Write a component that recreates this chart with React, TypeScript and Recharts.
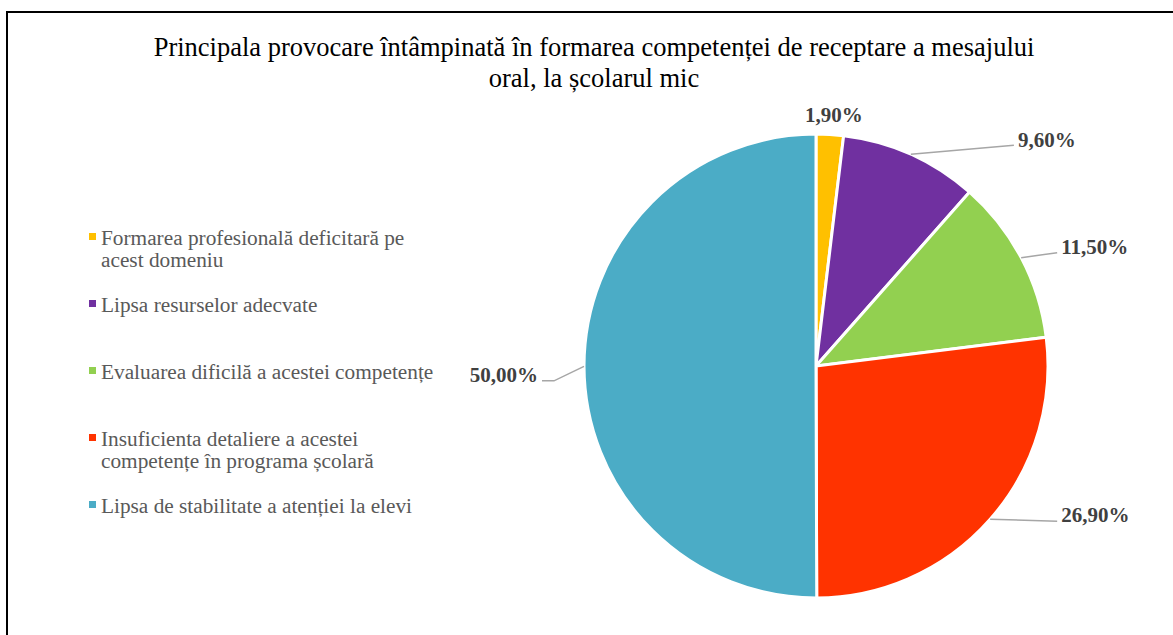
import React from 'react';
import { PieChart, Pie, Cell, Legend } from 'recharts';

const categories = [
  'Formarea profesională deficitară pe acest domeniu',
  'Lipsa resurselor adecvate',
  'Evaluarea dificilă a acestei competențe',
  'Insuficienta detaliere a acestei competențe în programa școlară',
  'Lipsa de stabilitate a atenției la elevi',
];
const legendLines = [
  ['Formarea profesională deficitară pe', 'acest domeniu'],
  ['Lipsa resurselor adecvate'],
  ['Evaluarea dificilă a acestei competențe'],
  ['Insuficienta detaliere a acestei', 'competențe în programa școlară'],
  ['Lipsa de stabilitate a atenției la elevi'],
];
const values = [1.9, 9.6, 11.5, 26.9, 50.0];
const valueLabels = ['1,90%', '9,60%', '11,50%', '26,90%', '50,00%'];
const colors = ['#FFC000', '#7030A0', '#92D050', '#FF3300', '#4BACC6'];
const titleLines = [
  'Principala provocare întâmpinată în formarea competenței de receptare a mesajului',
  'oral, la școlarul mic',
];

const data = categories.map((name, i) => ({ name, value: values[i] }));

// layout of labels relative to the slice's outer edge point
const labelLayout: { line: number[][]; dx: number; dy: number; anchor: 'start' | 'middle' | 'end' }[] = [
  { line: [], dx: 4, dy: -12, anchor: 'middle' },
  { line: [[103, -9]], dx: 107, dy: -7, anchor: 'start' },
  { line: [[36, -5]], dx: 40, dy: -4, anchor: 'start' },
  { line: [[67, 2]], dx: 71, dy: 3, anchor: 'start' },
  { line: [[-30, 14.5], [-42, 14.5]], dx: -46, dy: 15.5, anchor: 'end' },
];

const FONT = '"Liberation Serif", "Times New Roman", serif';

const renderLabel = (props: any) => {
  const { cx, cy, midAngle, outerRadius, index } = props;
  const rad = (-midAngle * Math.PI) / 180;
  const ex = cx + outerRadius * Math.cos(rad);
  const ey = cy + outerRadius * Math.sin(rad);
  const lay = labelLayout[index];
  const pts = [[ex, ey], ...lay.line.map(([dx, dy]) => [ex + dx, ey + dy])];
  return (
    <g key={`lbl-${index}`}>
      {lay.line.length > 0 && (
        <polyline
          points={pts.map((p) => p.join(',')).join(' ')}
          fill="none"
          stroke="#A6A6A6"
          strokeWidth={1.5}
        />
      )}
      <text
        x={ex + lay.dx}
        y={ey + lay.dy}
        textAnchor={lay.anchor}
        fontFamily={FONT}
        fontSize={21}
        fontWeight="bold"
        fill="#404040"
      >
        {valueLabels[index]}
      </text>
    </g>
  );
};

const renderLegend = () => (
  <div style={{ fontFamily: FONT, fontSize: 21.3, color: '#595959' }}>
    {legendLines.map((lines, i) => (
      <div key={i} style={{ position: 'relative', height: 67, paddingLeft: 21 }}>
        <div
          style={{
            position: 'absolute',
            left: 9,
            top: 6,
            width: 7,
            height: 7,
            background: colors[i],
          }}
        />
        {lines.map((l, j) => (
          <div key={j} style={{ lineHeight: '22px', whiteSpace: 'nowrap' }}>
            {l}
          </div>
        ))}
      </div>
    ))}
  </div>
);

export default function App() {
  return (
    <div
      style={{
        position: 'fixed',
        left: 0,
        top: 0,
        width: 1173,
        height: 635,
        overflow: 'hidden',
        background: '#fff',
      }}
    >
      <div
        style={{
          position: 'absolute',
          left: 6,
          top: 11,
          width: 1200,
          height: 700,
          border: '2px solid #000',
        }}
      />
      <div
        style={{
          position: 'absolute',
          left: 44,
          width: 1100,
          top: 32,
          textAlign: 'center',
          fontFamily: FONT,
          fontSize: 26.5,
          lineHeight: '31px',
          color: '#000',
        }}
      >
        {titleLines.map((t, i) => (
          <div key={i} style={{ whiteSpace: 'nowrap' }}>{t}</div>
        ))}
      </div>
      <div style={{ position: 'absolute', left: 0, top: 0 }}>
        <PieChart width={1173} height={635} margin={{ top: 0, right: 0, bottom: 0, left: 0 }}>
          <Legend
            content={renderLegend}
            layout="vertical"
            wrapperStyle={{ position: 'absolute', left: 80, top: 227, width: 400 }}
          />
          <Pie
            data={data}
            dataKey="value"
            nameKey="name"
            cx={816}
            cy={366}
            outerRadius={232}
            startAngle={90}
            endAngle={-270}
            stroke="#FFFFFF"
            strokeWidth={3}
            label={renderLabel}
            labelLine={false}
            isAnimationActive={false}
          >
            {data.map((d, i) => (
              <Cell key={d.name} fill={colors[i]} />
            ))}
          </Pie>
        </PieChart>
      </div>
    </div>
  );
}
